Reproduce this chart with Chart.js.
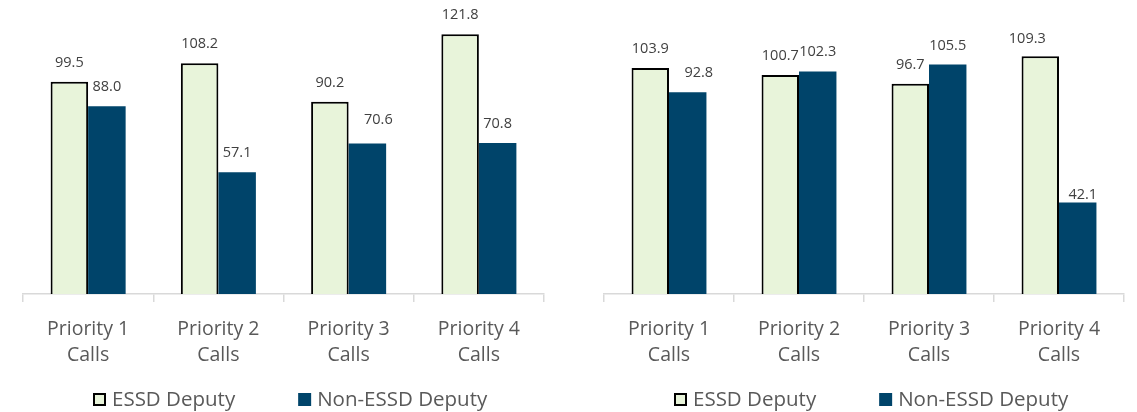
<!DOCTYPE html>
<html>
<head>
<meta charset="utf-8">
<script src="https://cdn.jsdelivr.net/npm/chart.js@4.4.1/dist/chart.umd.min.js"></script>
<style>
  html, body { margin: 0; padding: 0; background: #fff; overflow: hidden; }
  #wrap { display: flex; width: 1137px; height: 412px; }
</style>
</head>
<body>
<div id="wrap">
  <canvas id="left" width="568" height="412"></canvas>
  <canvas id="right" width="569" height="412"></canvas>
</div>
<script>
// data
const categories = [['Priority 1', 'Calls'], ['Priority 2', 'Calls'], ['Priority 3', 'Calls'], ['Priority 4', 'Calls']];
const seriesNames = ['ESSD Deputy', 'Non-ESSD Deputy'];
const leftEssd = [99.5, 108.2, 90.2, 121.8];
const leftNonEssd = [88.0, 57.1, 70.6, 70.8];
const rightEssd = [103.9, 100.7, 96.7, 109.3];
const rightNonEssd = [92.8, 102.3, 105.5, 42.1];
const yMax = 130;

Chart.defaults.font.family = '"Open Sans", sans-serif';

// value labels above each bar (some were hand-moved in the original)
const valueLabels = {
  id: 'valueLabels',
  afterDatasetsDraw(chart, args, opts) {
    const ctx = chart.ctx;
    ctx.save();
    ctx.font = '14.5px "Open Sans"';
    ctx.fillStyle = '#404040';
    ctx.textAlign = 'center';
    ctx.textBaseline = 'alphabetic';
    chart.data.datasets.forEach((ds, di) => {
      chart.getDatasetMeta(di).data.forEach((bar, i) => {
        const n = (opts.nudges[di] && opts.nudges[di][i]) || [0, 0];
        ctx.fillText(ds.data[i].toFixed(1), bar.x + n[0], bar.y - 15 + n[1]);
      });
    });
    ctx.restore();
  }
};

// one-row legend with Excel-like spacing
const legendRow = {
  id: 'legendRow',
  afterDraw(chart, args, opts) {
    const ctx = chart.ctx;
    const box = 13, gap = 6, spacing = 63;
    const y = opts.y;
    let x = chart.chartArea.left + opts.offsetX;
    ctx.save();
    ctx.font = '20.5px "Open Sans"';
    ctx.textBaseline = 'middle';
    ctx.textAlign = 'left';
    chart.data.datasets.forEach(ds => {
      ctx.fillStyle = ds.backgroundColor;
      ctx.fillRect(x, y - box / 2, box, box);
      if (ds.borderWidth > 0) {
        ctx.lineWidth = ds.borderWidth;
        ctx.strokeStyle = ds.borderColor;
        ctx.strokeRect(x + 1, y - box / 2 + 1, box - 2, box - 2);
      }
      ctx.fillStyle = '#595959';
      ctx.fillText(ds.label, x + box + gap, y + 1);
      x += box + gap + ctx.measureText(ds.label).width + spacing;
    });
    ctx.restore();
  }
};

function makeChart(id, essd, nonEssd, pad, nudges) {
  return new Chart(document.getElementById(id), {
    type: 'bar',
    data: {
      labels: categories,
      datasets: [
        {
          label: seriesNames[0],
          data: essd,
          backgroundColor: '#e8f4da',
          borderColor: '#000000',
          borderWidth: 2,
          borderSkipped: 'start'
        },
        {
          label: seriesNames[1],
          data: nonEssd,
          backgroundColor: '#00446a',
          borderColor: '#00446a',
          borderWidth: 0
        }
      ]
    },
    options: {
      responsive: false,
      animation: false,
      events: [],
      layout: { padding: pad },
      datasets: { bar: { categoryPercentage: 0.576, barPercentage: 1 } },
      scales: {
        x: {
          offset: true,
          grid: { offset: true, drawOnChartArea: false, tickLength: 8, color: '#d9d9d9', lineWidth: 1.5 },
          border: { color: '#d9d9d9', width: 1.5 },
          ticks: {
            color: '#595959',
            font: { size: 19.5, lineHeight: 1.333 },
            padding: 14.5,
            maxRotation: 0,
            minRotation: 0,
            autoSkip: false
          },
          afterFit(scale) { scale.height = 80; }
        },
        y: { display: false, min: 0, max: yMax }
      },
      plugins: {
        legend: { display: false },
        tooltip: { enabled: false },
        valueLabels: { nudges: nudges },
        legendRow: { offsetX: 70, y: 399.5 }
      }
    },
    plugins: [valueLabels, legendRow]
  });
}

makeChart('left', leftEssd, leftNonEssd,
  { top: 16.8, left: 23, right: 24, bottom: 38 },
  { 1: { 2: [11, -4] } });

makeChart('right', rightEssd, rightNonEssd,
  { top: 11.25, left: 36, right: 13, bottom: 38 },
  { 0: { 3: [-13, 2] }, 1: { 0: [11, 0], 3: [5, 12] } });
</script>
</body>
</html>
